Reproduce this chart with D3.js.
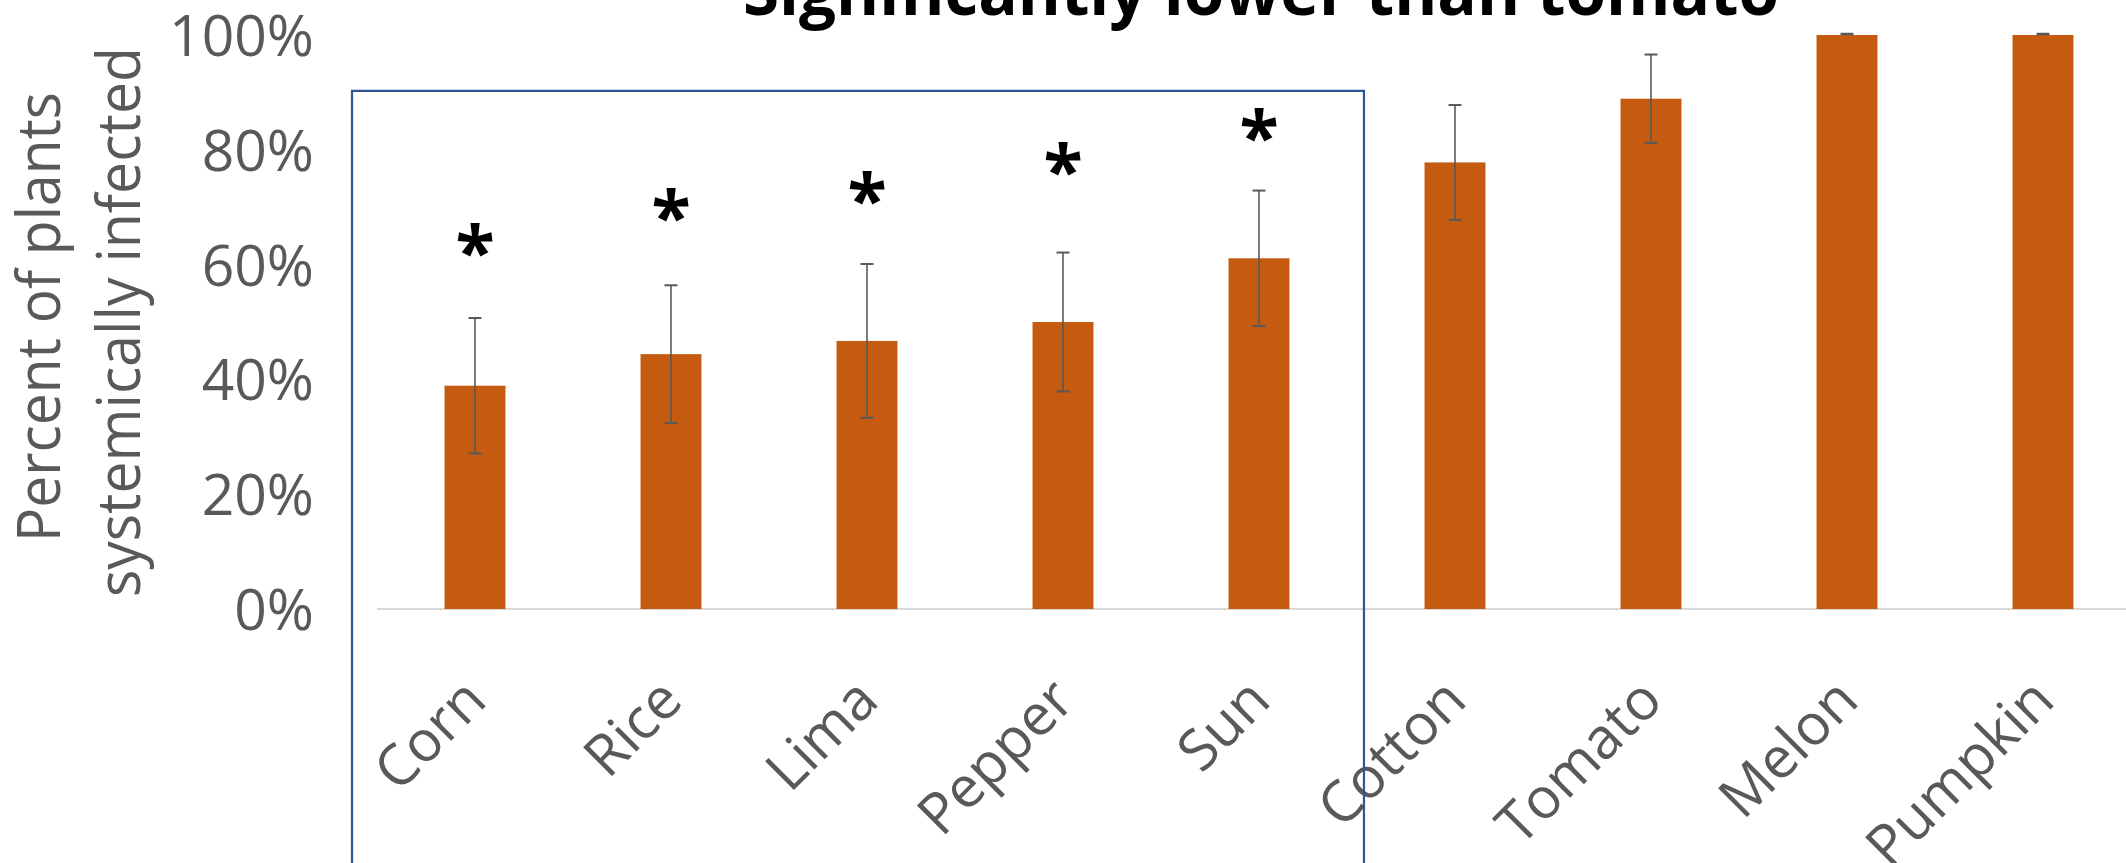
<!DOCTYPE html>
<html>
<head>
<meta charset="utf-8">
<script src="https://cdn.jsdelivr.net/npm/d3@7"></script>
<style>
  html, body { margin: 0; padding: 0; background: #fff; overflow: hidden; }
  svg { display: block; }
</style>
</head>
<body>
<div id="chart"></div>
<script>
// data
const hosts = ["Corn", "Rice", "Lima", "Pepper", "Sun", "Cotton", "Tomato", "Melon", "Pumpkin"];
const infected = [0.389, 0.444, 0.467, 0.50, 0.611, 0.778, 0.889, 1.0, 1.0];
const errors = [0.118, 0.12, 0.134, 0.121, 0.118, 0.10, 0.077, 0, 0];
const starLevel = [0.64, 0.70, 0.73, 0.78, 0.84, null, null, null, null];
const yTicks = [0, 0.2, 0.4, 0.6, 0.8, 1.0];
const lowerGroup = ["Corn", "Rice", "Lima", "Pepper", "Sun"];

const width = 2126, height = 863;
const svg = d3.select("#chart").append("svg")
  .attr("width", width)
  .attr("height", height);

const x = d3.scaleBand()
  .domain(hosts)
  .range([377, 2141])
  .paddingInner(0.689)
  .paddingOuter(0.3445);

const y = d3.scaleLinear()
  .domain([0, 1])
  .range([609, 35]);

// title (cut off at top)
svg.append("text")
  .attr("x", 1261)
  .attr("y", 15)
  .attr("text-anchor", "middle")
  .attr("font-family", "Open Sans")
  .attr("font-weight", "bold")
  .attr("font-size", 66)
  .attr("textLength", 1036)
  .attr("lengthAdjust", "spacingAndGlyphs")
  .attr("fill", "#000")
  .text("Significantly lower than tomato");

// baseline
svg.append("line")
  .attr("x1", 377).attr("x2", width)
  .attr("y1", y(0)).attr("y2", y(0))
  .attr("stroke", "#d9d9d9")
  .attr("stroke-width", 2);

// y axis labels
const yAxis = d3.axisLeft(y)
  .tickValues(yTicks)
  .tickFormat(d3.format(".0%"))
  .tickSize(0)
  .tickPadding(0);

const yg = svg.append("g")
  .attr("transform", "translate(314,0)")
  .call(yAxis);
yg.select(".domain").remove();
yg.selectAll("text")
  .attr("font-family", "Open Sans")
  .attr("font-size", 57)
  .attr("fill", "#595959")
  .attr("dy", "0.36em");

// y axis title, two lines
const yTitle = [["Percent of plants", 60, 317, 450], ["systemically infected", 140, 322, 550]];
yTitle.forEach(([t, bx, cy, len]) => {
  svg.append("text")
    .attr("transform", `translate(${bx},${cy}) rotate(-90)`)
    .attr("text-anchor", "middle")
    .attr("font-family", "Open Sans")
    .attr("font-size", 60)
    .attr("textLength", len)
    .attr("lengthAdjust", "spacingAndGlyphs")
    .attr("fill", "#595959")
    .text(t);
});

// bars
svg.append("g").selectAll("rect")
  .data(hosts)
  .join("rect")
  .attr("x", d => x(d))
  .attr("width", x.bandwidth())
  .attr("y", (d, i) => y(infected[i]))
  .attr("height", (d, i) => y(0) - y(infected[i]))
  .attr("fill", "#c55a11");

// error bars
const cap = 6.5;
const eg = svg.append("g")
  .attr("stroke", "#595959")
  .attr("stroke-width", 1.6)
  .attr("fill", "none");
hosts.forEach((h, i) => {
  const cx = x(h) + x.bandwidth() / 2;
  const hi = y(infected[i] + errors[i]);
  const lo = y(infected[i] - errors[i]);
  const topY = errors[i] === 0 ? hi - 1 : hi;
  eg.append("line").attr("x1", cx).attr("x2", cx).attr("y1", topY).attr("y2", lo);
  eg.append("line").attr("x1", cx - cap).attr("x2", cx + cap).attr("y1", topY).attr("y2", topY)
    .attr("stroke-width", errors[i] === 0 ? 2.5 : 2);
  if (errors[i] > 0) {
    eg.append("line").attr("x1", cx - cap).attr("x2", cx + cap).attr("y1", lo).attr("y2", lo)
      .attr("stroke-width", 2);
  }
});

// asterisks
svg.append("g").selectAll("text")
  .data(hosts.filter((h, i) => starLevel[i] !== null))
  .join("text")
  .attr("x", d => x(d) + x.bandwidth() / 2)
  .attr("y", d => y(starLevel[hosts.indexOf(d)]))
  .attr("dy", "0.5em")
  .attr("text-anchor", "middle")
  .attr("font-family", "Open Sans")
  .attr("font-weight", "bold")
  .attr("font-size", 72)
  .attr("fill", "#000")
  .text("*");

// x labels
svg.append("g").selectAll("text")
  .data(hosts)
  .join("text")
  .attr("transform", d => `translate(${x(d) + x.bandwidth() / 2 + 14},${y(0) + 94}) rotate(-45)`)
  .attr("text-anchor", "end")
  .attr("font-family", "Open Sans")
  .attr("font-size", 57)
  .attr("fill", "#595959")
  .text(d => d);

// box around the significantly lower group
const step = x.step();
const bx0 = x(lowerGroup[0]) - step * 0.472;
const bx1 = x(lowerGroup[lowerGroup.length - 1]) + x.bandwidth() + step * 0.38;
svg.append("path")
  .attr("d", `M${bx0},${height + 10}V${y(0.9025)}H${bx1}V${height + 10}`)
  .attr("fill", "none")
  .attr("stroke", "#2f5597")
  .attr("stroke-width", 2.2);
</script>
</body>
</html>
